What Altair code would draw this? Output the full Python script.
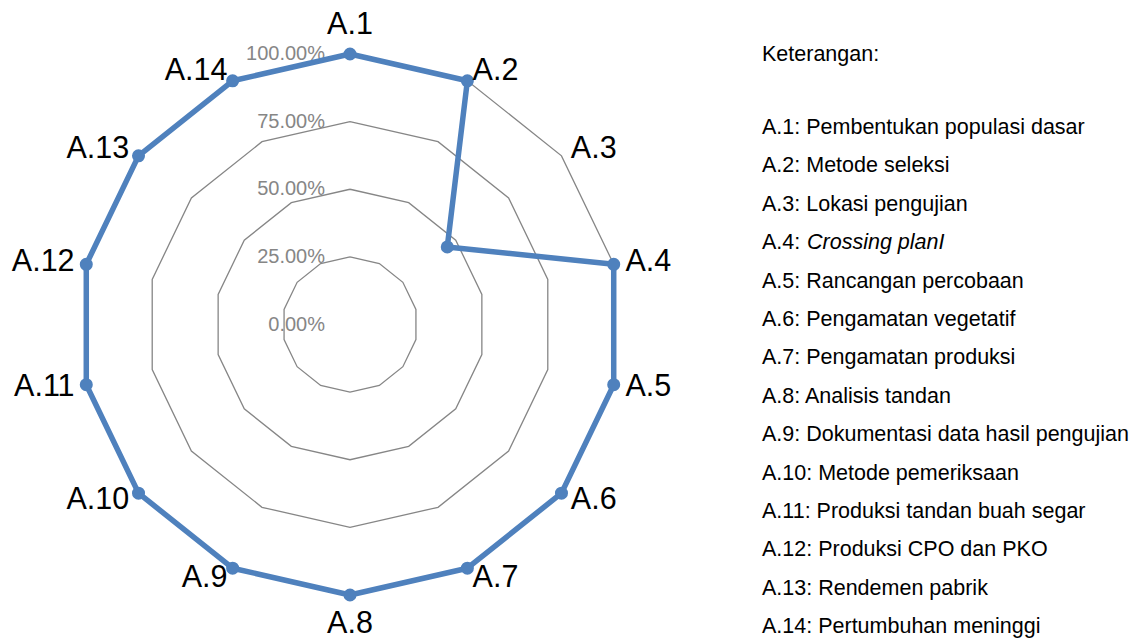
import altair as alt
import pandas as pd

# ---- data -------------------------------------------------------------
categories = ["A.1", "A.2", "A.3", "A.4", "A.5", "A.6", "A.7",
              "A.8", "A.9", "A.10", "A.11", "A.12", "A.13", "A.14"]
scores = [1.00, 1.00, 0.46, 1.00, 1.00, 1.00, 1.00,
          1.00, 1.00, 1.00, 1.00, 1.00, 1.00, 1.00]
grid_levels = [0.25, 0.50, 0.75, 1.00]
tick_levels = [0.00, 0.25, 0.50, 0.75, 1.00]
descriptions = [
    "Pembentukan populasi dasar",
    "Metode seleksi",
    "Lokasi pengujian",
    "Crossing planI",
    "Rancangan percobaan",
    "Pengamatan vegetatif",
    "Pengamatan produksi",
    "Analisis tandan",
    "Dokumentasi data hasil pengujian",
    "Metode pemeriksaan",
    "Produksi tandan buah segar",
    "Produksi CPO dan PKO",
    "Rendemen pabrik",
    "Pertumbuhan meninggi",
]
italic_desc = [False, False, False, True, False, False, False,
               False, False, False, False, False, False, False]
legend_title = "Keterangan:"

# ---- layout -----------------------------------------------------------
W, H = 1132, 639
CX, CY = 350, 324.5          # radar centre in pixels
PX = 270.5                   # pixels per unit of radius
N = len(categories)
FONT = "Liberation Sans"
BLUE = "#4F81BD"
GREY = "#868686"
LEG_FS = 21.5

x_scale = alt.Scale(domain=[-CX / PX, (W - CX) / PX], nice=False, zero=False)
y_scale = alt.Scale(domain=[-(H - CY) / PX, CY / PX], nice=False, zero=False)

ANGLE = f"datum.idx * 2 * PI / {N}"

# closed series polygon (first vertex repeated at the end)
series_df = pd.DataFrame({
    "cat": [categories[i % N] for i in range(N + 1)],
    "idx": list(range(N + 1)),
    "value": [scores[i % N] for i in range(N + 1)],
})

grid_df = pd.DataFrame([
    {"level": lvl, "idx": i} for lvl in grid_levels for i in range(N + 1)
])

tick_df = pd.DataFrame({"level": tick_levels})
cat_df = pd.DataFrame({"cat": categories, "idx": list(range(N))})

legend_df = pd.DataFrame({
    "code": categories,
    "desc": descriptions,
    "italic": italic_desc,
    "row": list(range(N)),
})


def polar(chart, r_field):
    return chart.transform_calculate(
        ang=ANGLE
    ).transform_calculate(
        px=f"datum.{r_field} * sin(datum.ang)",
        py=f"datum.{r_field} * cos(datum.ang)",
    )


X = alt.X("px:Q", scale=x_scale, axis=None)
Y = alt.Y("py:Q", scale=y_scale, axis=None)

# concentric grid polygons
grid = polar(alt.Chart(grid_df), "level").mark_line(
    color=GREY, strokeWidth=1.3
).encode(x=X, y=Y, detail="level:N", order="idx:Q")

# value ring labels along the top spoke
ticks = alt.Chart(tick_df).transform_calculate(
    px="0", py="datum.level"
).mark_text(
    align="right", baseline="middle", dx=-25, fontSize=20, color=GREY, font=FONT
).encode(x=X, y=Y, text=alt.Text("level:Q", format=".2%"))

# series line and markers
series_line = polar(alt.Chart(series_df), "value").mark_line(
    color=BLUE, strokeWidth=5.5, strokeJoin="round", strokeCap="round"
).encode(x=X, y=Y, order="idx:Q")

series_pts = polar(alt.Chart(series_df), "value").transform_filter(
    f"datum.idx < {N}"
).mark_circle(color=BLUE, size=170, opacity=1).encode(x=X, y=Y)

# category labels around the outer ring
lab_right = alt.Chart(cat_df).transform_filter(
    f"datum.idx > 0 && datum.idx < {N // 2}"
).transform_calculate(ang=ANGLE).transform_calculate(
    px=f"sin(datum.ang) * (1 + 12 / {PX})",
    py=f"cos(datum.ang) * (1 + 11 / {PX})",
).mark_text(
    align="left", baseline="middle", fontSize=30.5, color="black", font=FONT
).encode(x=X, y=Y, text="cat:N")

lab_left = alt.Chart(cat_df).transform_filter(
    f"datum.idx > {N // 2}"
).transform_calculate(ang=ANGLE).transform_calculate(
    px=f"sin(datum.ang) * (1 + 12 / {PX})",
    py=f"cos(datum.ang) * (1 + 11 / {PX})",
).mark_text(
    align="right", baseline="middle", fontSize=30.5, color="black", font=FONT
).encode(x=X, y=Y, text="cat:N")

lab_center = alt.Chart(cat_df).transform_filter(
    f"datum.idx == 0 || datum.idx == {N // 2}"
).transform_calculate(ang=ANGLE).transform_calculate(
    px="0",
    py=f"cos(datum.ang) * (1 + 29 / {PX})",
).mark_text(
    align="center", baseline="middle", fontSize=30.5, color="black", font=FONT
).encode(x=X, y=Y, text="cat:N")

# ---- key on the right -------------------------------------------------
LEG_X = 762
LEG_Y0 = 128
LEG_STEP = 38.4
LY = alt.Y("ly:Q", scale=None, axis=None)

leg_title = alt.Chart(pd.DataFrame({"t": [legend_title]})).transform_calculate(
    ly="55"
).mark_text(
    align="left", baseline="middle", fontSize=LEG_FS, color="black", font=FONT
).encode(x=alt.value(LEG_X), y=LY, text="t:N")

leg_plain = alt.Chart(legend_df).transform_filter("!datum.italic").transform_calculate(
    ly=f"{LEG_Y0} + datum.row * {LEG_STEP}",
    t="datum.code + ': ' + datum.desc",
).mark_text(
    align="left", baseline="middle", fontSize=LEG_FS, color="black", font=FONT
).encode(x=alt.value(LEG_X), y=LY, text="t:N")

leg_it_code = alt.Chart(legend_df).transform_filter("datum.italic").transform_calculate(
    ly=f"{LEG_Y0} + datum.row * {LEG_STEP}",
    t="datum.code + ':'",
).mark_text(
    align="left", baseline="middle", fontSize=LEG_FS, color="black", font=FONT
).encode(x=alt.value(LEG_X), y=LY, text="t:N")

leg_it_desc = alt.Chart(legend_df).transform_filter("datum.italic").transform_calculate(
    ly=f"{LEG_Y0} + datum.row * {LEG_STEP}",
).mark_text(
    align="left", baseline="middle", fontSize=LEG_FS, color="black", font=FONT,
    fontStyle="italic"
).encode(x=alt.value(LEG_X + 45), y=LY, text="desc:N")

chart = alt.layer(
    grid, ticks, series_line, series_pts,
    lab_right, lab_left, lab_center,
    leg_title, leg_plain, leg_it_code, leg_it_desc,
).resolve_scale(
    y="independent"
).properties(
    width=W, height=H, padding=0, autosize=alt.AutoSizeParams(type="none"),
    background="white",
).configure_view(stroke=None)

chart.save("out.html", embed_options={"renderer": "svg", "actions": False})
